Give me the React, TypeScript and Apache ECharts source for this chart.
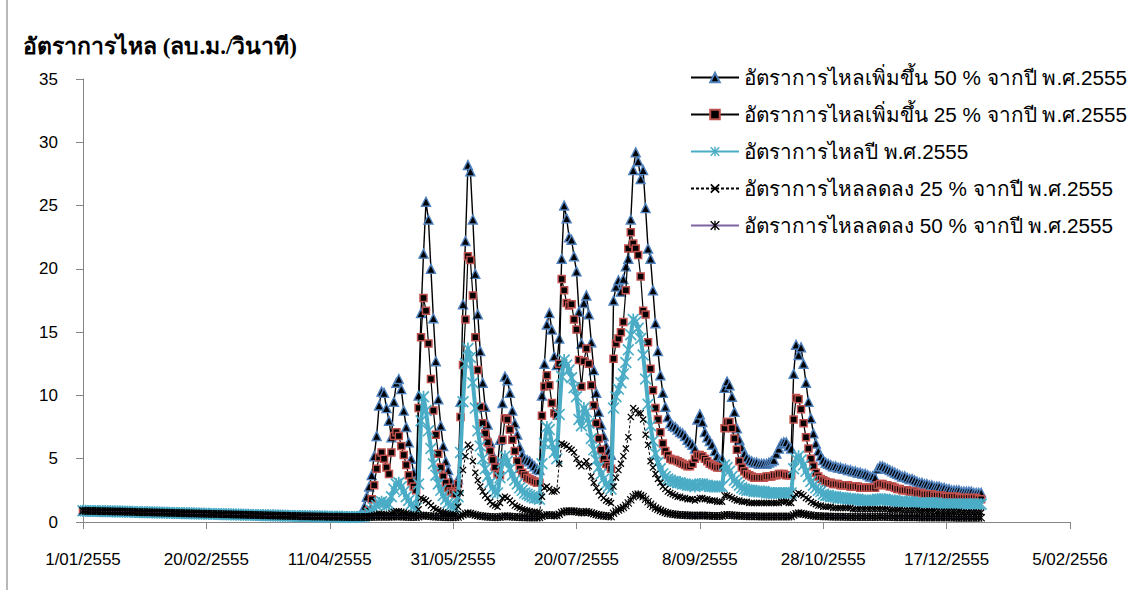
import { useEffect, useRef } from "react";
import * as echarts from "echarts";

const TITLE = "อัตราการไหล (ลบ.ม./วินาที)";
const SERIES_NAMES = [
  "อัตราการไหลเพิ่มขึ้น 50 % จากปี พ.ศ.2555",
  "อัตราการไหลเพิ่มขึ้น 25 % จากปี พ.ศ.2555",
  "อัตราการไหลปี พ.ศ.2555",
  "อัตราการไหลลดลง 25 % จากปี พ.ศ.2555",
  "อัตราการไหลลดลง 50 % จากปี พ.ศ.2555",
];
// x axis: days counted from 1/01/2555, one tick every 50 days
const X_TICK_LABELS = [
  "1/01/2555", "20/02/2555", "11/04/2555", "31/05/2555", "20/07/2555",
  "8/09/2555", "28/10/2555", "17/12/2555", "5/02/2556",
];
const X_STEP_DAYS = 50;
const Y_MAX = 35;
const Y_STEP = 5;

// day 0 .. 109 (dry season, all scenarios overlap)
const dryFlow = [
  0.88, 0.88, 0.87, 0.87, 0.86, 0.86, 0.86, 0.85, 0.85, 0.84,
  0.84, 0.84, 0.83, 0.83, 0.82, 0.82, 0.82, 0.81, 0.81, 0.8,
  0.8, 0.79, 0.79, 0.78, 0.78, 0.78, 0.77, 0.77, 0.76, 0.76,
  0.75, 0.75, 0.74, 0.74, 0.73, 0.73, 0.72, 0.72, 0.71, 0.71,
  0.7, 0.7, 0.69, 0.69, 0.68, 0.68, 0.67, 0.67, 0.66, 0.66,
  0.65, 0.65, 0.64, 0.64, 0.63, 0.63, 0.62, 0.62, 0.61, 0.61,
  0.6, 0.6, 0.59, 0.59, 0.58, 0.58, 0.57, 0.57, 0.56, 0.56,
  0.55, 0.55, 0.54, 0.54, 0.53, 0.53, 0.52, 0.52, 0.51, 0.51,
  0.5, 0.5, 0.49, 0.49, 0.48, 0.48, 0.47, 0.47, 0.46, 0.46,
  0.45, 0.45, 0.45, 0.44, 0.44, 0.44, 0.43, 0.43, 0.43, 0.42,
  0.42, 0.42, 0.41, 0.41, 0.41, 0.41, 0.4, 0.4, 0.4, 0.4,
];

// day 110 .. 364
const flowPlus50 = [
  0.4, 0.4, 0.42, 0.5, 1.2, 2.0, 2.8, 3.7, 5.2, 6.8,
  9.2, 10.3, 10.2, 9.0, 8.0, 6.7, 9.5, 11.0, 11.3, 10.5,
  8.8, 7.5, 6.3, 5.0, 3.9, 3.3, 10.0, 16.5, 21.2, 25.3,
  23.9, 20.0, 16.1, 12.7, 9.7, 7.6, 6.0, 4.8, 4.1, 3.3,
  2.8, 2.5, 3.4, 9.5, 17.2, 22.2, 28.2, 27.7, 23.9, 19.6,
  16.4, 13.5, 11.0, 9.1, 7.7, 6.3, 5.3, 4.5, 4.5, 6.5,
  9.4, 11.5, 11.2, 10.2, 8.8, 7.8, 6.9, 5.9, 5.3, 5.0,
  4.9, 4.8, 4.6, 4.4, 4.2, 4.1, 10.0, 12.5, 15.6, 16.5,
  15.2, 13.1, 12.4, 14.5, 20.8, 25.0, 24.0, 22.5, 22.3, 21.0,
  19.8, 16.6, 14.1, 17.3, 17.9, 16.4, 14.2, 12.0, 10.2, 8.7,
  7.7, 6.8, 6.0, 5.6, 5.3, 17.5, 18.6, 19.1, 18.2, 19.2,
  20.2, 20.8, 23.9, 27.8, 29.2, 28.5, 27.1, 27.8, 24.8, 21.6,
  20.8, 18.3, 15.7, 13.5, 11.6, 10.2, 9.1, 8.3, 7.8, 7.6,
  7.5, 7.3, 7.1, 7.0, 6.8, 6.5, 6.3, 6.1, 5.8, 8.1,
  8.5, 7.9, 7.1, 6.7, 6.4, 6.1, 5.6, 5.2, 4.9, 5.0,
  10.6, 11.1, 10.8, 9.9, 8.7, 7.4, 6.5, 5.9, 5.4, 5.1,
  4.9, 4.8, 4.7, 4.7, 4.6, 4.6, 4.6, 4.6, 4.7, 4.8,
  4.9, 5.4, 5.8, 6.2, 6.3, 6.3, 6.0, 5.8, 11.7, 14.0,
  13.2, 13.8, 12.5, 11.0, 9.5, 8.2, 7.0, 6.2, 5.6, 5.2,
  4.9, 4.7, 4.6, 4.5, 4.4, 4.4, 4.3, 4.3, 4.2, 4.2,
  4.1, 4.1, 4.0, 4.0, 3.9, 3.9, 3.8, 3.8, 3.7, 3.6,
  3.6, 3.5, 4.2, 4.4, 4.4, 4.3, 4.2, 4.1, 4.0, 3.9,
  3.8, 3.7, 3.6, 3.6, 3.5, 3.4, 3.4, 3.3, 3.2, 3.1,
  3.1, 3.0, 3.0, 2.9, 2.9, 2.8, 2.8, 2.8, 2.7, 2.7,
  2.6, 2.6, 2.5, 2.5, 2.5, 2.5, 2.4, 2.4, 2.4, 2.4,
  2.4, 2.3, 2.3, 2.3, 2.3,
];

const flowPlus25 = [
  0.4, 0.4, 0.41, 0.42, 0.5, 0.6, 0.9, 1.8, 2.9, 4.2,
  5.1, 5.5, 5.0, 4.3, 3.8, 5.5, 6.8, 7.1, 6.8, 6.0,
  5.3, 4.5, 3.7, 3.2, 2.8, 2.5, 9.0, 14.6, 17.7, 16.7,
  14.1, 11.3, 8.8, 6.9, 5.4, 4.3, 3.6, 3.1, 2.7, 2.4,
  2.3, 2.2, 3.0, 8.3, 12.4, 16.0, 21.0, 20.7, 17.9, 14.6,
  12.0, 9.1, 7.8, 7.0, 6.3, 5.6, 4.9, 4.3, 3.8, 3.7,
  6.5, 8.2, 8.1, 7.3, 6.5, 5.6, 4.8, 4.2, 3.9, 3.7,
  3.5, 3.4, 3.3, 3.2, 3.1, 3.1, 8.4, 10.7, 11.6, 10.8,
  9.4, 8.6, 8.4, 12.5, 19.2, 18.3, 17.3, 17.1, 17.2, 16.0,
  15.2, 12.8, 10.7, 12.7, 13.7, 12.5, 10.8, 9.2, 7.8, 6.6,
  5.7, 5.0, 4.6, 4.4, 4.2, 12.9, 14.1, 14.5, 15.0, 15.8,
  18.3, 21.6, 22.9, 22.0, 21.6, 21.1, 19.4, 16.7, 16.4, 14.2,
  12.1, 10.4, 9.0, 8.1, 7.1, 6.2, 5.6, 5.3, 5.0, 4.9,
  4.9, 4.8, 4.7, 4.6, 4.5, 4.4, 4.4, 4.6, 5.0, 5.3,
  5.3, 5.2, 5.0, 4.8, 4.6, 4.5, 4.4, 4.3, 4.3, 4.3,
  7.4, 7.9, 7.9, 7.4, 6.6, 5.7, 4.8, 4.3, 4.0, 3.8,
  3.7, 3.6, 3.5, 3.5, 3.5, 3.5, 3.5, 3.6, 3.6, 3.6,
  3.7, 3.7, 3.8, 3.8, 3.8, 3.7, 3.7, 3.7, 8.1, 9.8,
  9.7, 8.9, 7.8, 6.7, 5.8, 5.0, 4.4, 3.9, 3.6, 3.4,
  3.3, 3.2, 3.1, 3.1, 3.0, 3.0, 3.0, 2.9, 2.9, 2.9,
  2.9, 2.8, 2.8, 2.8, 2.8, 2.7, 2.7, 2.7, 2.7, 2.7,
  2.7, 2.7, 2.9, 3.0, 3.0, 2.9, 2.9, 2.8, 2.8, 2.7,
  2.6, 2.6, 2.5, 2.5, 2.5, 2.4, 2.4, 2.4, 2.3, 2.3,
  2.3, 2.2, 2.2, 2.2, 2.2, 2.1, 2.1, 2.1, 2.1, 2.0,
  2.0, 2.0, 2.0, 2.0, 2.0, 1.9, 1.9, 1.9, 1.9, 1.9,
  1.9, 1.9, 1.9, 1.8, 1.8,
];

const flowBase = [
  0.4, 0.4, 0.41, 0.42, 0.45, 0.55, 0.7, 0.9, 1.1, 1.3,
  1.5, 1.6, 1.5, 1.3, 1.4, 2.0, 2.6, 3.0, 3.1, 2.8,
  2.4, 2.0, 1.7, 1.4, 1.2, 1.1, 3.0, 8.0, 9.9, 8.8,
  7.2, 5.8, 4.6, 3.7, 3.0, 2.5, 2.1, 1.8, 1.5, 1.3,
  1.2, 1.1, 2.0, 5.5, 9.5, 12.5, 13.7, 13.0, 11.0, 9.0,
  7.2, 6.0, 5.0, 4.2, 3.6, 3.1, 2.7, 2.4, 2.3, 3.5,
  4.7, 5.2, 4.8, 4.2, 3.7, 3.3, 3.0, 2.7, 2.5, 2.3,
  2.2, 2.1, 2.0, 1.9, 1.9, 1.8, 4.6, 6.2, 7.5, 7.3,
  6.2, 5.5, 5.0, 8.5, 11.5, 12.8, 12.4, 12.0, 11.4, 10.6,
  9.9, 8.1, 7.6, 9.0, 8.7, 7.8, 6.6, 5.7, 4.9, 4.3,
  3.8, 3.4, 3.0, 2.8, 2.6, 9.0, 9.9, 10.5, 11.0, 11.7,
  12.6, 13.6, 14.8, 16.0, 15.8, 15.3, 14.5, 13.2, 11.3, 9.3,
  7.6, 6.4, 5.4, 4.7, 4.2, 3.8, 3.6, 3.4, 3.3, 3.2,
  3.2, 3.1, 3.1, 3.0, 3.0, 2.9, 2.9, 2.9, 2.8, 2.9,
  3.0, 3.0, 2.9, 2.9, 2.8, 2.8, 2.8, 2.8, 2.8, 2.8,
  4.5, 4.3, 4.0, 3.6, 3.3, 3.1, 2.9, 2.7, 2.6, 2.5,
  2.5, 2.5, 2.4, 2.4, 2.4, 2.4, 2.4, 2.3, 2.3, 2.3,
  2.3, 2.3, 2.3, 2.3, 2.3, 2.3, 2.3, 2.3, 4.2, 5.0,
  5.2, 4.9, 4.5, 4.0, 3.6, 3.2, 2.9, 2.7, 2.5, 2.4,
  2.2, 2.1, 2.1, 2.0, 2.0, 2.0, 1.9, 1.9, 1.9, 1.9,
  1.8, 1.8, 1.8, 1.8, 1.8, 1.7, 1.7, 1.7, 1.7, 1.7,
  1.7, 1.7, 1.8, 1.8, 1.8, 1.8, 1.7, 1.7, 1.7, 1.7,
  1.6, 1.6, 1.6, 1.6, 1.6, 1.6, 1.6, 1.5, 1.5, 1.5,
  1.5, 1.5, 1.5, 1.5, 1.5, 1.5, 1.5, 1.4, 1.4, 1.4,
  1.4, 1.4, 1.4, 1.4, 1.4, 1.4, 1.4, 1.4, 1.4, 1.4,
  1.4, 1.4, 1.4, 1.4, 1.4,
];

const flowMinus25 = [
  0.4, 0.4, 0.4, 0.41, 0.42, 0.43, 0.45, 0.5, 0.55, 0.6,
  0.65, 0.65, 0.6, 0.6, 0.6, 0.7, 0.8, 0.85, 0.85, 0.8,
  0.75, 0.7, 0.65, 0.6, 0.55, 0.55, 1.0, 1.9, 1.8, 1.7,
  1.5, 1.3, 1.1, 1.0, 0.9, 0.8, 0.75, 0.7, 0.65, 0.6,
  0.6, 0.6, 1.2, 2.3, 4.1, 5.2, 6.1, 5.9, 4.8, 3.9,
  3.3, 2.8, 2.4, 2.1, 1.9, 1.6, 1.4, 1.3, 1.2, 1.5,
  1.9, 2.0, 1.9, 1.7, 1.5, 1.3, 1.2, 1.1, 1.0, 0.95,
  0.9, 0.85, 0.8, 0.8, 0.75, 0.75, 2.0, 2.7, 2.8, 2.6,
  2.4, 2.4, 2.5, 4.6, 6.2, 6.1, 6.0, 5.8, 5.7, 5.5,
  5.0, 4.6, 4.4, 4.6, 4.8, 4.4, 3.6, 3.1, 2.7, 2.4,
  2.1, 1.9, 1.7, 1.6, 1.5, 2.8, 3.5, 4.1, 4.6, 5.2,
  5.8, 6.7, 8.3, 9.0, 8.8, 8.6, 8.6, 8.1, 6.9, 6.1,
  4.8, 4.3, 3.8, 3.4, 3.1, 2.8, 2.6, 2.4, 2.3, 2.2,
  2.1, 2.0, 2.0, 1.9, 1.9, 1.8, 1.8, 1.8, 1.7, 1.8,
  1.9, 1.9, 1.8, 1.8, 1.7, 1.7, 1.7, 1.6, 1.6, 1.6,
  2.1, 2.1, 2.0, 1.9, 1.8, 1.7, 1.7, 1.6, 1.6, 1.6,
  1.5, 1.5, 1.5, 1.5, 1.5, 1.5, 1.5, 1.5, 1.5, 1.5,
  1.5, 1.5, 1.5, 1.6, 1.6, 1.6, 1.5, 1.5, 1.9, 2.2,
  2.3, 2.2, 2.1, 1.9, 1.8, 1.6, 1.5, 1.4, 1.3, 1.3,
  1.2, 1.2, 1.2, 1.2, 1.1, 1.1, 1.1, 1.1, 1.1, 1.1,
  1.1, 1.1, 1.0, 1.0, 1.0, 1.0, 1.0, 1.0, 1.0, 1.0,
  1.0, 1.0, 1.0, 1.0, 1.0, 1.0, 1.0, 0.95, 0.95, 0.95,
  0.95, 0.95, 0.9, 0.9, 0.9, 0.9, 0.9, 0.9, 0.9, 0.85,
  0.85, 0.85, 0.85, 0.85, 0.85, 0.85, 0.8, 0.8, 0.8, 0.8,
  0.8, 0.8, 0.8, 0.8, 0.8, 0.8, 0.75, 0.75, 0.75, 0.75,
  0.75, 0.75, 0.75, 0.75, 0.75,
];

const flowMinus50 = [
  0.4, 0.4, 0.4, 0.4, 0.4, 0.4, 0.4, 0.4, 0.41, 0.42,
  0.42, 0.42, 0.42, 0.41, 0.41, 0.42, 0.43, 0.44, 0.44, 0.43,
  0.42, 0.41, 0.4, 0.4, 0.39, 0.39, 0.42, 0.5, 0.52, 0.5,
  0.48, 0.46, 0.44, 0.42, 0.41, 0.4, 0.39, 0.38, 0.38, 0.37,
  0.37, 0.37, 0.4, 0.48, 0.58, 0.65, 0.7, 0.68, 0.62, 0.56,
  0.52, 0.48, 0.45, 0.43, 0.42, 0.4, 0.39, 0.38, 0.38, 0.4,
  0.44, 0.46, 0.45, 0.43, 0.42, 0.4, 0.39, 0.38, 0.37, 0.37,
  0.36, 0.36, 0.36, 0.35, 0.35, 0.35, 0.45, 0.52, 0.55, 0.55,
  0.53, 0.52, 0.52, 0.62, 0.75, 0.82, 0.85, 0.85, 0.85, 0.84,
  0.82, 0.78, 0.76, 0.78, 0.8, 0.78, 0.72, 0.66, 0.6, 0.55,
  0.52, 0.49, 0.47, 0.45, 0.44, 0.7, 0.85, 0.95, 1.05, 1.15,
  1.3, 1.5, 1.75, 2.0, 2.15, 2.2, 2.1, 2.0, 1.8, 1.6,
  1.4, 1.25, 1.1, 1.0, 0.9, 0.82, 0.76, 0.7, 0.66, 0.63,
  0.6, 0.58, 0.56, 0.55, 0.54, 0.53, 0.52, 0.51, 0.5, 0.51,
  0.52, 0.52, 0.51, 0.5, 0.49, 0.48, 0.48, 0.47, 0.47, 0.47,
  0.55, 0.56, 0.55, 0.53, 0.51, 0.5, 0.49, 0.48, 0.47, 0.46,
  0.46, 0.45, 0.45, 0.45, 0.44, 0.44, 0.44, 0.44, 0.43, 0.43,
  0.43, 0.43, 0.43, 0.43, 0.43, 0.43, 0.43, 0.43, 0.55, 0.65,
  0.7, 0.68, 0.64, 0.6, 0.56, 0.53, 0.5, 0.48, 0.47, 0.46,
  0.45, 0.44, 0.43, 0.43, 0.42, 0.42, 0.42, 0.41, 0.41, 0.41,
  0.4, 0.4, 0.4, 0.4, 0.4, 0.39, 0.39, 0.39, 0.39, 0.39,
  0.39, 0.39, 0.4, 0.41, 0.41, 0.4, 0.4, 0.39, 0.39, 0.38,
  0.38, 0.38, 0.38, 0.38, 0.37, 0.37, 0.37, 0.37, 0.37, 0.36,
  0.36, 0.36, 0.36, 0.36, 0.36, 0.35, 0.35, 0.35, 0.35, 0.35,
  0.35, 0.35, 0.35, 0.34, 0.34, 0.34, 0.34, 0.34, 0.34, 0.34,
  0.34, 0.34, 0.33, 0.33, 0.33,
];

const ASTERISK =
  "path://M4.3,0L5.7,0L5.7,10L4.3,10Z M0,1L1,0L10,9L9,10Z M9,0L10,1L1,10L0,9Z";
const CROSS = "path://M0,1.3L1.3,0L10,8.7L8.7,10Z M8.7,0L10,1.3L1.3,10L0,8.7Z";

const FONT = "Tahoma, 'Liberation Sans', 'DejaVu Sans', sans-serif";

function toPoints(wet: number[]) {
  return [...dryFlow, ...wet].map((v, i) => [i, v]);
}

export default function App() {
  const ref = useRef<HTMLDivElement>(null);

  useEffect(() => {
    if (!ref.current) return;
    const chart = echarts.init(ref.current, undefined, { renderer: "svg" });

    const common = {
      type: "line",
      showAllSymbol: true,
      animation: false,
    };

    chart.setOption({
      animation: false,
      backgroundColor: "#ffffff",
      title: {
        text: TITLE,
        left: 18,
        top: 30,
        textStyle: {
          fontSize: 23,
          fontWeight: "bold",
          color: "#000",
          fontFamily: "'Liberation Serif', serif",
        },
      },
      graphic: [
        {
          type: "rect",
          left: 6,
          top: 0,
          shape: { width: 2, height: 590 },
          style: { fill: "#b8b8b8" },
          silent: true,
        },
      ],
      legend: {
        orient: "vertical",
        left: 685,
        top: 62,
        itemWidth: 48,
        itemHeight: 12,
        itemGap: 16,
        textStyle: { fontSize: 20.7, color: "#000", fontFamily: FONT, lineHeight: 21 },
        data: SERIES_NAMES,
      },
      grid: { left: 83, right: 65, top: 79, bottom: 68, containLabel: false },
      xAxis: {
        type: "value",
        min: 0,
        max: X_STEP_DAYS * (X_TICK_LABELS.length - 1),
        interval: X_STEP_DAYS,
        splitLine: { show: false },
        axisLine: { lineStyle: { color: "#868686", width: 1 } },
        axisTick: { length: 7, lineStyle: { color: "#868686" } },
        axisLabel: {
          margin: 29,
          fontSize: 17,
          color: "#000",
          fontFamily: FONT,
          formatter: (v: number) => X_TICK_LABELS[Math.round(v / X_STEP_DAYS)] ?? "",
        },
      },
      yAxis: {
        type: "value",
        min: 0,
        max: Y_MAX,
        interval: Y_STEP,
        splitLine: { show: false },
        axisLine: { show: true, lineStyle: { color: "#868686", width: 1 } },
        axisTick: { show: true, length: 7, lineStyle: { color: "#868686" } },
        axisLabel: { margin: 25, fontSize: 17, color: "#000", fontFamily: FONT },
      },
      series: [
        {
          ...common,
          name: SERIES_NAMES[0],
          z: 2,
          data: toPoints(flowPlus50),
          symbol: "triangle",
          symbolSize: 9,
          lineStyle: { color: "#000", width: 1.4 },
          itemStyle: { color: "#000", borderColor: "#4f81bd", borderWidth: 1.4 },
        },
        {
          ...common,
          name: SERIES_NAMES[1],
          z: 3,
          data: toPoints(flowPlus25),
          symbol: "rect",
          symbolSize: 7,
          lineStyle: { color: "#000", width: 1.2 },
          itemStyle: { color: "#000", borderColor: "#c0504d", borderWidth: 1.5 },
        },
        {
          ...common,
          name: SERIES_NAMES[2],
          z: 4,
          data: toPoints(flowBase),
          symbol: ASTERISK,
          symbolSize: 12,
          lineStyle: { color: "#4bacc6", width: 4 },
          itemStyle: { color: "#4bacc6" },
        },
        {
          ...common,
          name: SERIES_NAMES[3],
          z: 5,
          data: toPoints(flowMinus25),
          symbol: CROSS,
          symbolSize: 7,
          lineStyle: { color: "#000", width: 1, type: [3, 2] },
          itemStyle: { color: "#000" },
        },
        {
          ...common,
          name: SERIES_NAMES[4],
          z: 6,
          data: toPoints(flowMinus50),
          symbol: ASTERISK,
          symbolSize: 8,
          lineStyle: { color: "#8064a2", width: 1.5 },
          itemStyle: { color: "#000" },
        },
      ],
    });

    return () => chart.dispose();
  }, []);

  return (
    <div
      ref={ref}
      style={{ position: "fixed", left: 0, top: 0, width: 1135, height: 590, background: "#fff" }}
    />
  );
}
